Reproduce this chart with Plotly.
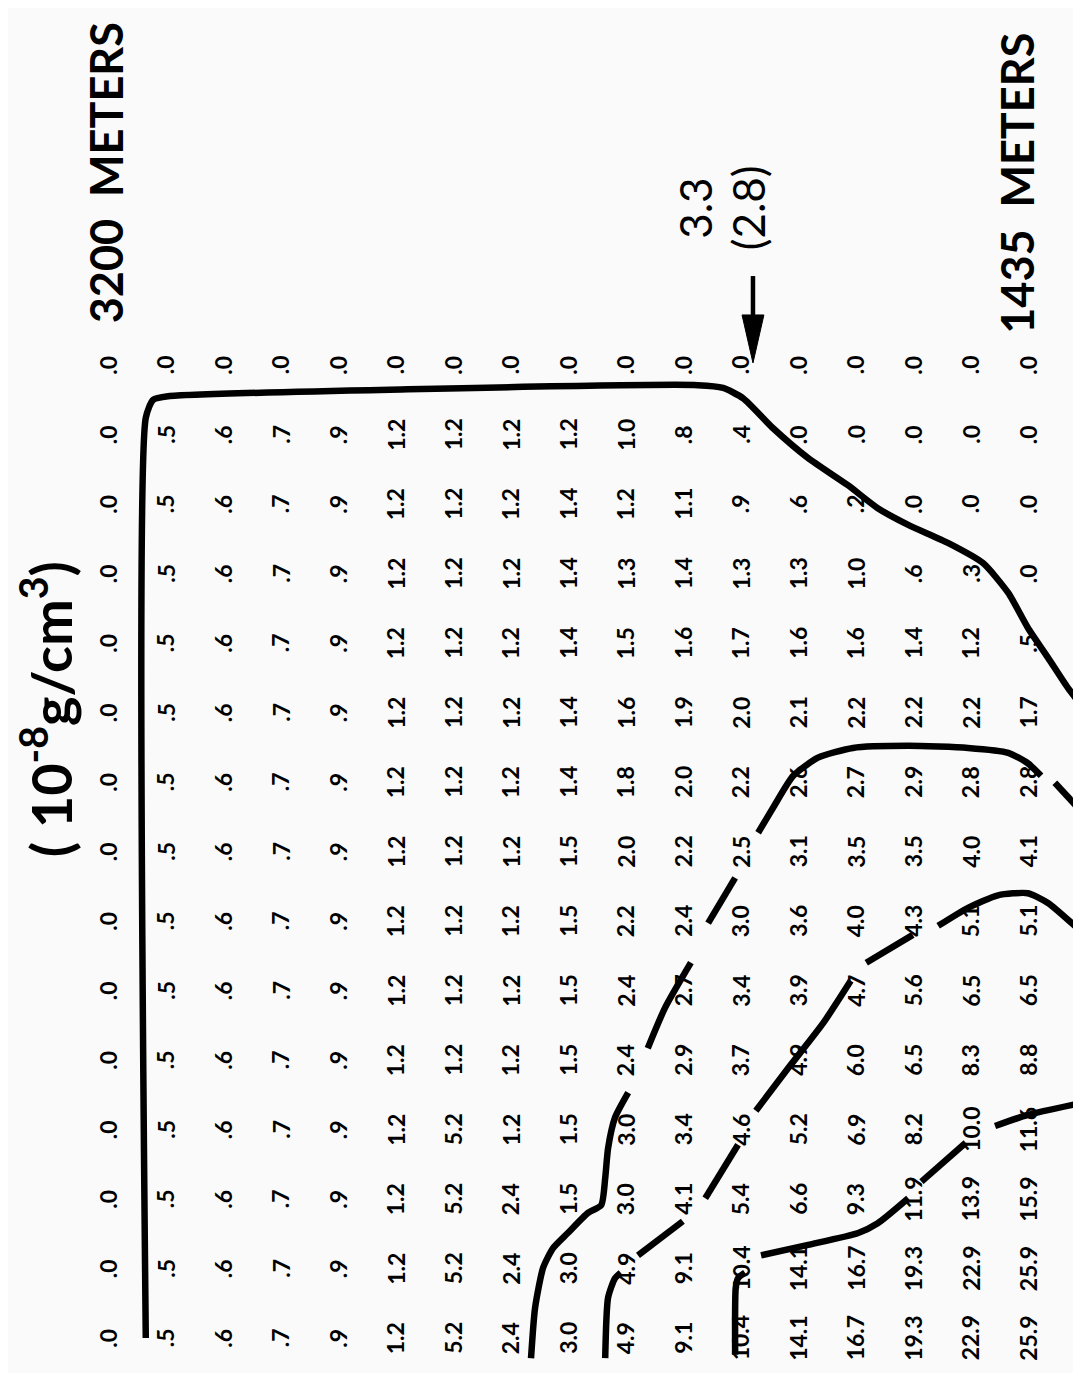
import plotly.graph_objects as go

# ---- grid values (rows top->bottom, columns left->right) ----
r00 = [0.0]*17
r01 = [0.0, 0.5, 0.6, 0.7, 0.9, 1.2, 1.2, 1.2, 1.2, 1.0, 0.8, 0.4, 0.0, 0.0, 0.0, 0.0, 0.0]
r02 = [0.0, 0.5, 0.6, 0.7, 0.9, 1.2, 1.2, 1.2, 1.4, 1.2, 1.1, 0.9, 0.6, 0.2, 0.0, 0.0, 0.0]
r03 = [0.0, 0.5, 0.6, 0.7, 0.9, 1.2, 1.2, 1.2, 1.4, 1.3, 1.4, 1.3, 1.3, 1.0, 0.6, 0.3, 0.0]
r04 = [0.0, 0.5, 0.6, 0.7, 0.9, 1.2, 1.2, 1.2, 1.4, 1.5, 1.6, 1.7, 1.6, 1.6, 1.4, 1.2, 0.5]
r05 = [0.0, 0.5, 0.6, 0.7, 0.9, 1.2, 1.2, 1.2, 1.4, 1.6, 1.9, 2.0, 2.1, 2.2, 2.2, 2.2, 1.7]
r06 = [0.0, 0.5, 0.6, 0.7, 0.9, 1.2, 1.2, 1.2, 1.4, 1.8, 2.0, 2.2, 2.6, 2.7, 2.9, 2.8, 2.8]
r07 = [0.0, 0.5, 0.6, 0.7, 0.9, 1.2, 1.2, 1.2, 1.5, 2.0, 2.2, 2.5, 3.1, 3.5, 3.5, 4.0, 4.1]
r08 = [0.0, 0.5, 0.6, 0.7, 0.9, 1.2, 1.2, 1.2, 1.5, 2.2, 2.4, 3.0, 3.6, 4.0, 4.3, 5.1, 5.1]
r09 = [0.0, 0.5, 0.6, 0.7, 0.9, 1.2, 1.2, 1.2, 1.5, 2.4, 2.7, 3.4, 3.9, 4.7, 5.6, 6.5, 6.5]
r10 = [0.0, 0.5, 0.6, 0.7, 0.9, 1.2, 1.2, 1.2, 1.5, 2.4, 2.9, 3.7, 4.9, 6.0, 6.5, 8.3, 8.8]
r11 = [0.0, 0.5, 0.6, 0.7, 0.9, 1.2, 5.2, 1.2, 1.5, 3.0, 3.4, 4.6, 5.2, 6.9, 8.2, 10.0, 11.6]
r12 = [0.0, 0.5, 0.6, 0.7, 0.9, 1.2, 5.2, 2.4, 1.5, 3.0, 4.1, 5.4, 6.6, 9.3, 11.9, 13.9, 15.9]
r13 = [0.0, 0.5, 0.6, 0.7, 0.9, 1.2, 5.2, 2.4, 3.0, 4.9, 9.1, 10.4, 14.1, 16.7, 19.3, 22.9, 25.9]
r14 = [0.0, 0.5, 0.6, 0.7, 0.9, 1.2, 5.2, 2.4, 3.0, 4.9, 9.1, 10.4, 14.1, 16.7, 19.3, 22.9, 25.9]
grid = [r00, r01, r02, r03, r04, r05, r06, r07, r08, r09, r10, r11, r12, r13, r14]

# ---- hand-drawn contour lines in grid units (column, row); None = break at a label ----
lineA_c = [0.57, 0.57, 0.70, 0.96, 5.13, 10.17, 10.61, 10.96, 11.48, 12.09, 12.78, 13.30, 13.83, 14.52, 15.13, 15.57, 15.91, 16.26, 16.61, 16.92]
lineA_r = [14.0, 0.76, 0.50, 0.45, 0.35, 0.29, 0.33, 0.48, 0.91, 1.34, 1.73, 2.06, 2.30, 2.56, 2.85, 3.28, 3.78, 4.21, 4.65, 4.98]

lineB_c = [7.27, 7.34, 7.48, 7.65, 7.91, 8.26, 8.49, 8.56, 8.61, 8.73, 8.96, None,
           9.30, 9.60, 10.05, None, 10.35, 10.82, None,
           11.22, 11.48, 11.83, 12.26, 12.87, 13.83, 14.87, 15.57, 15.91, 16.14, None,
           16.38, 16.87]
lineB_r = [14.29, 13.57, 12.99, 12.71, 12.49, 12.20, 12.09, 11.70, 11.27, 10.83, 10.47, None,
           9.83, 9.25, 8.60, None, 8.03, 7.38, None,
           6.73, 6.37, 5.91, 5.65, 5.51, 5.48, 5.51, 5.58, 5.73, 5.91, None,
           6.01, 6.45]

lineC_c = [8.56, 8.61, 8.73, 8.83, None, 9.13, 9.91, None, 10.30, 10.87, None,
           11.18, 11.74, 12.35, 12.83, None, 13.10, 13.91, None,
           14.35, 14.87, 15.39, 15.91, 16.26, 16.90]
lineC_r = [14.29, 13.42, 13.14, 13.06, None, 12.81, 12.32, None, 11.99, 11.22, None,
           10.73, 10.12, 9.47, 8.86, None, 8.60, 8.20, None,
           8.07, 7.81, 7.63, 7.60, 7.74, 8.20]

lineD_c = [10.82, 10.83, 10.87, 10.99, None, 11.27, 12.09, 12.96, 13.30, 13.83, None,
           14.06, 14.83, None, 15.34, 15.91, 16.83]
lineD_r = [14.24, 13.28, 13.14, 13.06, None, 12.81, 12.66, 12.49, 12.35, 11.99, None,
           11.75, 11.19, None, 10.95, 10.79, 10.62]

# ---- labels ----
title_text = "( 10<sup>-8</sup>g/cm<sup>3</sup>)"
left_depth = "3200  METERS"
right_depth = "1435  METERS"
mark_top = "3.3"
mark_bottom = "(2.8)"
arrow_col = 11          # column the arrow points at (top row)

FONT = "Lato, 'Noto Sans', sans-serif"
TXT_SHIFT = -0.09       # small horizontal nudge for rotated text (style)


def fmt(v):
    if v < 1:
        return "." + str(int(round(v * 10)))
    return f"{v:.1f}"


fig = go.Figure()

for cs, rs in [(lineA_c, lineA_r), (lineB_c, lineB_r), (lineC_c, lineC_r), (lineD_c, lineD_r)]:
    fig.add_trace(go.Scatter(x=cs, y=rs, mode="lines",
                             line=dict(color="black", width=6.5, shape="spline", smoothing=0.6),
                             connectgaps=False, hoverinfo="skip", showlegend=False))

# arrow (shaft + long narrow head), positioned from the pointed column
ac = arrow_col + 0.13
head_half = 0.19
fig.add_trace(go.Scatter(x=[ac, ac], y=[-1.28, -0.66], mode="lines",
                         line=dict(color="black", width=4.5), hoverinfo="skip", showlegend=False))
fig.add_trace(go.Scatter(x=[ac - head_half, ac + head_half, ac, ac - head_half],
                         y=[-0.72, -0.72, -0.03, -0.72], mode="lines", fill="toself",
                         fillcolor="black", line=dict(color="black", width=1),
                         hoverinfo="skip", showlegend=False))

annotations = []
for ri, row in enumerate(grid):
    for ci, v in enumerate(row):
        annotations.append(dict(x=ci + TXT_SHIFT, y=ri, text=fmt(v), showarrow=False, textangle=-90,
                                font=dict(family=FONT, size=23, color="black", weight="bold"),
                                xanchor="center", yanchor="middle"))

annotations.append(dict(x=-1.16, y=4.95, text=title_text, showarrow=False, textangle=-90,
                        font=dict(family=FONT, size=56, color="black", weight="bold")))
annotations.append(dict(x=-0.12, y=-2.76, text=left_depth, showarrow=False, textangle=-90,
                        font=dict(family=FONT, size=45, color="black", weight="bold")))
annotations.append(dict(x=15.72, y=-2.62, text=right_depth, showarrow=False, textangle=-90,
                        font=dict(family=FONT, size=45, color="black", weight="bold")))
annotations.append(dict(x=arrow_col - 0.88, y=-2.26, text=mark_top, showarrow=False, textangle=-90,
                        font=dict(family=FONT, size=44, color="black")))
annotations.append(dict(x=arrow_col + 0.05, y=-2.26, text=mark_bottom, showarrow=False, textangle=-90,
                        font=dict(family=FONT, size=44, color="black")))

W, H = 1081, 1373
x0, dx = 105.0, 57.5
y0, dy = 357.0, 69.5
fig.update_layout(
    width=W, height=H,
    margin=dict(l=0, r=0, t=0, b=0),
    paper_bgcolor="#fafafa", plot_bgcolor="#fafafa",
    xaxis=dict(range=[-x0 / dx, (W - x0) / dx], visible=False, fixedrange=True),
    yaxis=dict(range=[(H - y0) / dy, -y0 / dy], visible=False, fixedrange=True),
    annotations=annotations,
)

fig.write_html("out.html")
